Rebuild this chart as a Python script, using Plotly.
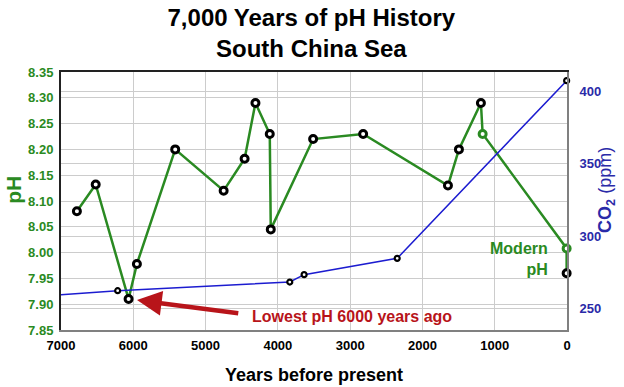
import plotly.graph_objects as go

# pH record (years before present, pH)
ph_years = [6780, 6520, 6065, 5950, 5420, 4750, 4460, 4310, 4112, 4098, 3512, 2820, 1647, 1495, 1191, 1167, 5, 5]
ph_values = [8.08, 8.132, 7.91, 7.978, 8.20, 8.12, 8.182, 8.29, 8.23, 8.045, 8.22, 8.23, 8.13, 8.20, 8.29, 8.23, 8.008, 7.96]
ph_kind = ["core"] * 15 + ["modern", "modern", "core"]

# CO2 record (years before present, ppm)
co2_years = [7850, 6216, 3835, 3637, 2349, 5]
co2_values = [256.4, 262.2, 268.2, 273.3, 284.6, 407.6]

x_ticks = [7000, 6000, 5000, 4000, 3000, 2000, 1000, 0]

GREEN = "#2a8a22"
BLUE = "#1c1cd0"
BLUE_TXT = "#2a2aa8"
RED = "#b8141a"
FONT = "Liberation Sans, Arial, sans-serif"

marker_colors = [GREEN if k == "modern" else "black" for k in ph_kind]

fig = go.Figure()

fig.add_trace(go.Scatter(
    x=co2_years, y=co2_values, yaxis="y2", mode="lines",
    line=dict(color=BLUE, width=1.5), hoverinfo="skip", showlegend=False))
fig.add_trace(go.Scatter(
    x=co2_years[1:], y=co2_values[1:], yaxis="y2", mode="markers",
    marker=dict(size=5, color="white", line=dict(color="black", width=2.2)),
    cliponaxis=False, showlegend=False))

fig.add_trace(go.Scatter(
    x=ph_years, y=ph_values, mode="lines+markers",
    line=dict(color=GREEN, width=2.5),
    marker=dict(size=7, color="white", line=dict(color=marker_colors, width=3)),
    cliponaxis=False, showlegend=False))

# dummy trace so the top axis line is drawn
fig.add_trace(go.Scatter(x=[None], y=[None], xaxis="x2", showlegend=False))

fig.update_layout(
    width=624, height=387,
    margin=dict(l=61, r=57, t=72, b=57),
    paper_bgcolor="white", plot_bgcolor="white",
    font=dict(family=FONT),
    title=dict(text="<b>7,000 Years of pH History<br>South China Sea</b>",
               x=0.499, xanchor="center", y=0.934, yanchor="top",
               font=dict(size=24, color="black", family=FONT)),
    xaxis=dict(range=[7000, 0], tickvals=x_ticks,
               ticktext=[str(v) for v in x_ticks],
               showgrid=True, gridcolor="#cccccc", gridwidth=1,
               showline=True, linecolor="#808080", linewidth=2,
               ticks="", zeroline=False, ticklabelstandoff=2, automargin=False,
               tickfont=dict(size=13, color="black", family=FONT, weight="bold"),
               title=dict(text="<b>Years before present</b>",
                          font=dict(size=18, color="black"), standoff=17)),
    xaxis2=dict(range=[7000, 0], overlaying="x", side="top", automargin=False,
                showline=True, linecolor="#222222", linewidth=2,
                showgrid=False, showticklabels=False, ticks="", zeroline=False),
    yaxis=dict(range=[7.85, 8.35], dtick=0.05, tick0=7.85, tickformat=".2f",
               showgrid=True, gridcolor="#cccccc", gridwidth=1,
               showline=True, linecolor="#222222", linewidth=2,
               ticks="", zeroline=False, ticklabelstandoff=3, automargin=False,
               tickfont=dict(size=13, color=GREEN, family=FONT, weight="bold")),
    yaxis2=dict(range=[235, 413.6], overlaying="y", side="right",
                tickvals=[250, 300, 350, 400], automargin=False,
                showgrid=True, gridcolor="#cccccc", gridwidth=1,
                showline=True, linecolor="#808080", linewidth=2,
                ticks="", zeroline=False, ticklabelstandoff=8,
                tickfont=dict(size=13, color=BLUE_TXT, family=FONT, weight="bold")),
)

fig.add_annotation(text="<b>pH</b>", xref="paper", yref="paper",
                   x=-0.093, y=0.543, xanchor="center", yanchor="middle",
                   textangle=-90, showarrow=False,
                   font=dict(size=21, color=GREEN, family=FONT))
fig.add_annotation(text="<b>CO<sub>2</sub></b> (ppm)", xref="paper", yref="paper",
                   x=1.079, y=0.543, xanchor="center", yanchor="middle",
                   textangle=-90, showarrow=False,
                   font=dict(size=18, color=BLUE_TXT, family=FONT))

# arrow to lowest point
fig.add_annotation(x=5949, y=7.908, ax=4527, ay=7.882, xref="x", yref="y",
                   axref="x", ayref="y", text="", showarrow=True,
                   arrowhead=2, arrowsize=1.1, arrowwidth=4.5, arrowcolor=RED)
fig.add_annotation(text="<b>Lowest pH 6000 years ago</b>", x=2975, y=7.877,
                   xref="x", yref="y", showarrow=False,
                   font=dict(size=16, color=RED, family=FONT))
fig.add_annotation(text="<b>Modern<br>pH</b>", x=230, y=7.987, xref="x", yref="y",
                   xanchor="right", align="right", showarrow=False,
                   font=dict(size=16, color=GREEN, family=FONT))

fig.write_html("out.html", config={"displayModeBar": False},
               post_script="document.body.style.margin='0';document.body.style.overflow='hidden';")
